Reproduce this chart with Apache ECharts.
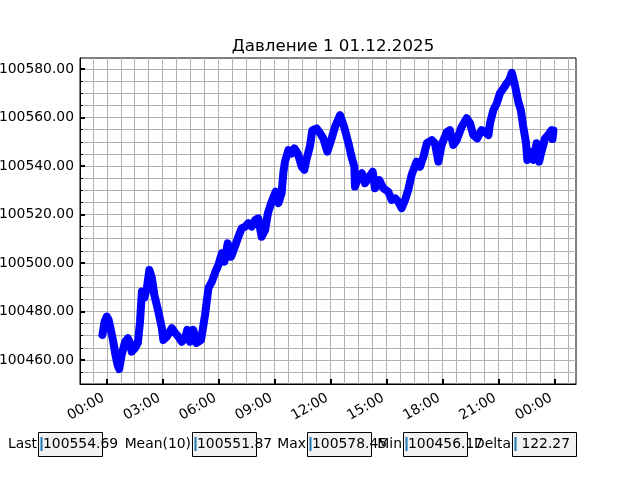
<!DOCTYPE html>
<html><head><meta charset="utf-8">
<script src="https://cdn.jsdelivr.net/npm/echarts@6/dist/echarts.min.js"></script>
<style>html,body{margin:0;padding:0;background:#fff}#c{width:640px;height:480px}</style>
</head><body><div id="c"></div>
<script>
const chartTitle = 'Давление 1 01.12.2025';
// minutes from 01.12.2025 00:00
const timeMin = [-14,-7,0,6,11,21,28,35,40,48,59,68,75,80,91,100,107,113,121,129,137,145,153,166,177,182,193,209,220,230,241,252,259,268,278,289,303,316,327,338,348,359,370,378,389,400,412,423,434,445,455,466,477,487,498,509,518,530,543,552,562,568,573,584,595,603,614,627,635,643,653,661,675,686,696,709,723,734,750,763,777,787,796,798,809,820,830,844,855,862,876,889,905,916,927,937,948,959,969,980,996,1007,1018,1029,1045,1055,1066,1077,1093,1103,1114,1125,1141,1157,1168,1178,1191,1205,1216,1227,1232,1243,1254,1264,1275,1286,1294,1302,1312,1323,1331,1339,1348,1352,1361,1371,1382,1390,1396,1409,1419,1430,1433,1436];
const pressure = [100470.3,100475.7,100477.9,100476.5,100473.7,100467.5,100462.1,100457.9,100456.2,100462.1,100467.5,100468.9,100467.0,100463.4,100464.9,100467.0,100475.8,100488.2,100485.6,100489.7,100497.1,100493.8,100486.8,100479.9,100473.2,100468.2,100469.6,100473.1,100471.1,100469.6,100467.5,100469.1,100472.4,100467.5,100472.4,100467.0,100468.2,100478.6,100489.7,100492.3,100495.9,100499.2,100504.0,100500.5,100508.1,100502.6,100506.7,100510.8,100514.3,100515.0,100516.4,100515.0,100517.7,100518.4,100510.8,100513.6,100520.5,100525.3,100529.4,100524.7,100528.7,100537.6,100541.8,100546.6,100545.2,100547.3,100545.2,100539.7,100538.4,100543.2,100548.0,100554.8,100555.5,100553.5,100551.4,100545.9,100551.4,100556.2,100561.0,100556.2,100549.4,100543.8,100539.7,100531.5,100535.6,100537.0,100532.9,100535.6,100537.6,100530.8,100534.2,100530.8,100529.4,100526.0,100526.7,100525.3,100522.6,100526.0,100530.1,100536.3,100541.8,100539.7,100543.8,100549.4,100550.7,100549.4,100541.8,100548.9,100554.0,100554.8,100548.7,100550.7,100556.2,100559.7,100557.6,100552.8,100551.4,100554.8,100554.1,100552.8,100557.6,100563.1,100565.9,100570.0,100572.0,100574.1,100575.5,100578.45,100573.4,100566.5,100563.1,100556.2,100549.4,100542.5,100545.9,100542.5,100549.4,100541.8,100545.2,100551.4,100552.8,100554.8,100551.1,100554.69];
const xMajorTicks = [0,180,360,540,720,900,1080,1260,1440];
const xTickLabels = ['00:00','03:00','06:00','09:00','12:00','15:00','18:00','21:00','00:00'];
const xGridTicks = [-45,0,45,90,135,180,225,270,315,360,405,450,495,540,585,630,675,720,765,810,855,900,945,990,1035,1080,1125,1170,1215,1260,1305,1350,1395,1440,1485];
const yMajorTicks = [100460,100480,100500,100520,100540,100560,100580];
const yMinorTicks = [100455,100460,100465,100470,100475,100480,100485,100490,100495,100500,100505,100510,100515,100520,100525,100530,100535,100540,100545,100550,100555,100560,100565,100570,100575,100580];
const statLabels = ['Last','Mean(10)','Max','Min','Delta'];
const statValues = ['100554.69','100551.87','100578.45','100456.17',' 122.27'];

const xMin = -86, xMax = 1508.5, yMin = 100450.06, yMax = 100584.56;
const FF = '"DejaVu Sans", sans-serif';
const boxLeft = [38.5, 192.5, 307.5, 403.5, 512.5];

const graphics = [];
statLabels.forEach((lab, i) => {
  const bx = boxLeft[i];
  graphics.push({type:'text', x: bx - 1.5, y: 444, style:{text: lab, fill:'#000', font:'13.9px ' + FF, textAlign:'right', textVerticalAlign:'middle'}, z: 10});
  graphics.push({type:'rect', shape:{x: bx, y: 432.5, width: 64, height: 24}, style:{fill:'#f2f2f2', stroke:'#000', lineWidth:1}, z: 11});
  graphics.push({type:'line', shape:{x1: bx + 3, y1: 437, x2: bx + 3, y2: 451}, style:{stroke:'#1f77b4', lineWidth:2}, z: 12});
  graphics.push({type:'text', x: bx + 4.5, y: 444, style:{text: statValues[i], fill:'#000', font:'13.9px ' + FF, textAlign:'left', textVerticalAlign:'middle'}, z: 13});
});

const chart = echarts.init(document.getElementById('c'), null, {renderer:'canvas'});
chart.setOption({
  animation: false,
  backgroundColor: '#fff',
  title: {text: chartTitle, left: 328, top: 33, textAlign: 'center',
    textStyle: {fontFamily: FF, fontSize: 16.67, fontWeight: 'normal', color: '#000'}},
  grid: {left: 80, right: 64, top: 58, bottom: 96, show: true, borderColor: '#000', borderWidth: 1,
    backgroundColor: 'transparent', containLabel: false, outerBoundsMode: 'none'},
  xAxis: [
    {type:'value', min:xMin, max:xMax, position:'bottom',
     axisLine:{show:true, onZero:false, lineStyle:{color:'#000', width:1}},
     axisTick:{show:false, customValues: xGridTicks},
     axisLabel:{show:false},
     splitLine:{show:true, lineStyle:{color:'#b0b0b0', width:1}}},
    {type:'value', min:xMin, max:xMax, position:'bottom', offset:0,
     axisLine:{show:false, onZero:false},
     axisTick:{show:true, inside:true, length:5, lineStyle:{color:'#000', width:2}, customValues: xMajorTicks},
     axisLabel:{show:true, customValues: xMajorTicks, rotate:30, align:'right', verticalAlign:'bottom', margin:19,
       fontFamily:FF, fontSize:13.9, color:'#000',
       formatter: v => xTickLabels[xMajorTicks.indexOf(v)]},
     splitLine:{show:false}}
  ],
  yAxis: [
    {type:'value', min:yMin, max:yMax, position:'left',
     axisLine:{show:true, onZero:false, lineStyle:{color:'#000', width:1}},
     axisTick:{show:true, inside:true, length:3, lineStyle:{color:'#000', width:1}, customValues: yMinorTicks},
     axisLabel:{show:false},
     splitLine:{show:true, lineStyle:{color:'#b0b0b0', width:1}}},
    {type:'value', min:yMin, max:yMax, position:'left', offset:0,
     axisLine:{show:false, onZero:false},
     axisTick:{show:true, inside:true, length:5, lineStyle:{color:'#000', width:2}, customValues: yMajorTicks},
     axisLabel:{show:true, customValues: yMajorTicks, margin:6, fontFamily:FF, fontSize:13.9, color:'#000',
       formatter: v => v.toFixed(2)},
     splitLine:{show:false}}
  ],
  series: [{
    type:'line', xAxisIndex:0, yAxisIndex:0,
    data: timeMin.map((t, i) => [t, pressure[i]]),
    showSymbol:false, symbol:'none', z: 5,
    lineStyle:{color:'#0000ff', width:8, cap:'round', join:'round'}
  }],
  graphic: graphics
});
</script>
</body></html>
